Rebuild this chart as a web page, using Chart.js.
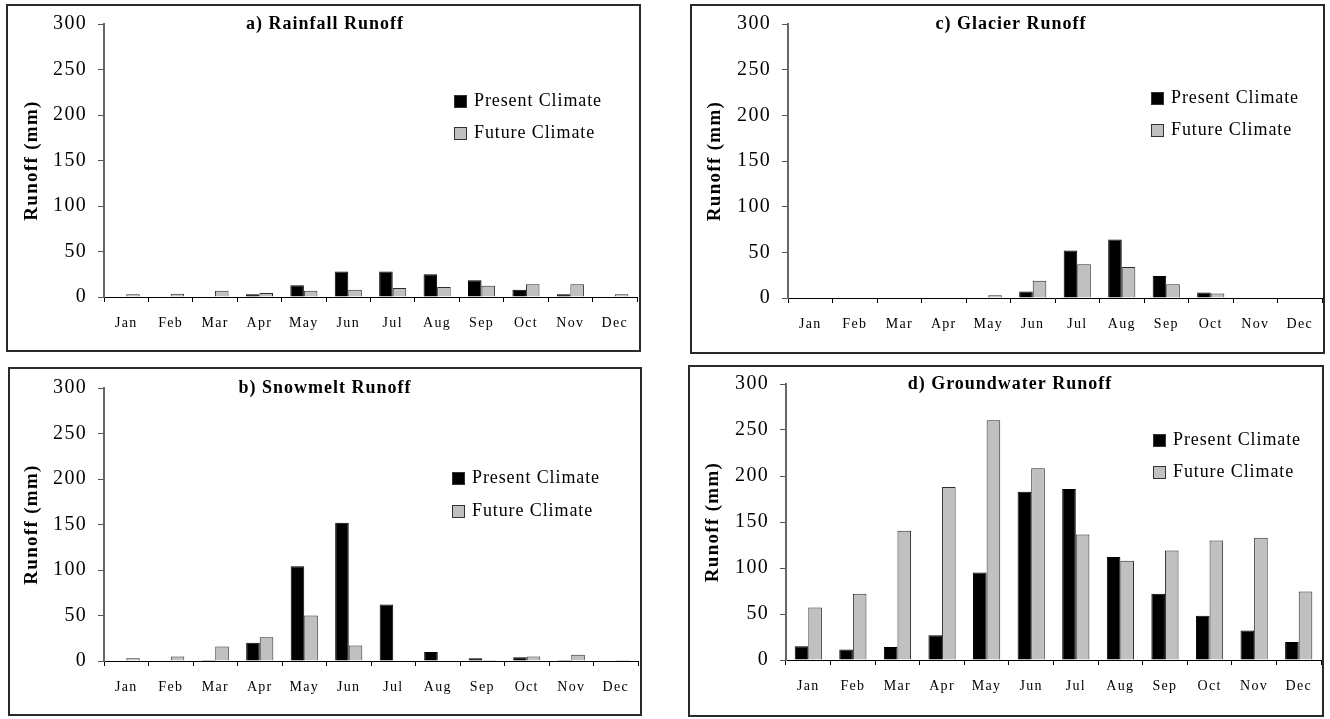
<!DOCTYPE html>
<html>
<head>
<meta charset="utf-8">
<title>Runoff: present vs future climate</title>
<script src="https://cdn.jsdelivr.net/npm/chart.js@4.4.1/dist/chart.umd.min.js"></script>
<style>
  body { margin: 0; background: #fff; }
  .panel { position: absolute; border: 2px solid #2a2a2a; box-sizing: border-box; background: #fff; }
  .panel canvas { display: block; }
</style>
</head>
<body>
<div class="panel" id="rainfall"><canvas></canvas></div>
<div class="panel" id="snowmelt"><canvas></canvas></div>
<div class="panel" id="glacier"><canvas></canvas></div>
<div class="panel" id="groundwater"><canvas></canvas></div>
<script>
const months = ['Jan', 'Feb', 'Mar', 'Apr', 'May', 'Jun', 'Jul', 'Aug', 'Sep', 'Oct', 'Nov', 'Dec']
const seriesNames = ['Present Climate', 'Future Climate']
const yMax = 300
const yStep = 50

// runoff in mm
const rainfallPresent = [0, 0, 0, 3, 13, 28, 28, 25, 18.5, 8, 3, 0]
const rainfallFuture = [3, 3.5, 7, 4.5, 7, 8, 10, 11, 12.5, 14, 14, 3]

const snowmeltPresent = [0, 0, 1, 20, 104, 152, 62, 10, 3, 4, 1, 0]
const snowmeltFuture = [3, 5, 16, 26, 50, 17, 0, 0, 1, 5, 7, 1]

const glacierPresent = [0, 0, 0, 0, 0, 7, 52, 64, 24, 6, 0, 0]
const glacierFuture = [0, 0, 0, 0, 3, 19, 37, 34, 15, 5, 0, 0]

const groundwaterPresent = [15, 11.5, 14, 27, 95, 183, 186, 112, 72, 48, 32, 19.5]
const groundwaterFuture = [57, 72, 140.5, 188, 260.5, 208.5, 136.5, 108, 119, 130, 133, 74.5]

const FONT = '"Liberation Serif", "Times New Roman", serif'

// page layout of each panel (box = border, area = plot area)
const panels = [
  { id: 'rainfall', title: 'a) Rainfall Runoff', present: rainfallPresent, future: rainfallFuture,
    box: [6, 4, 641, 352], area: [104, 24, 637, 297], titlePos: [325, 24], legendX: 454, legendY: [101, 133], yTitleX: 32 },
  { id: 'snowmelt', title: 'b) Snowmelt Runoff', present: snowmeltPresent, future: snowmeltFuture,
    box: [8, 367, 642, 716], area: [104, 388, 638, 661], titlePos: [325, 388], legendX: 452, legendY: [478, 511], yTitleX: 32 },
  { id: 'glacier', title: 'c) Glacier Runoff', present: glacierPresent, future: glacierFuture,
    box: [690, 4, 1325, 354], area: [788, 24, 1322, 298], titlePos: [1011, 24], legendX: 1151, legendY: [98, 130], yTitleX: 715 },
  { id: 'groundwater', title: 'd) Groundwater Runoff', present: groundwaterPresent, future: groundwaterFuture,
    box: [688, 365, 1324, 717], area: [786, 384, 1321, 660], titlePos: [1010, 384], legendX: 1153, legendY: [440, 472], yTitleX: 713 },
]

// title + legend inside the plot area, drawn on the canvas
const panelText = {
  id: 'panelText',
  beforeDraw(chart) {
    chart.ctx.letterSpacing = '1.3px'
  },
  afterDraw(chart, args, opts) {
    const ctx = chart.ctx
    ctx.save()
    ctx.letterSpacing = '1px'
    ctx.fillStyle = '#000'
    ctx.font = 'bold 18px ' + FONT
    ctx.textAlign = 'center'
    ctx.textBaseline = 'middle'
    ctx.fillText(opts.title, opts.titleX, opts.titleY)

    ctx.letterSpacing = '0.9px'
    ctx.font = '18px ' + FONT
    ctx.textAlign = 'left'
    chart.data.datasets.forEach((ds, i) => {
      const y = opts.legendY[i]
      ctx.fillStyle = ds.backgroundColor
      ctx.fillRect(opts.legendX, y - 6, 13, 13)
      ctx.strokeStyle = '#333'
      ctx.lineWidth = 1
      ctx.strokeRect(opts.legendX + 0.5, y - 5.5, 12, 12)
      ctx.fillStyle = '#000'
      ctx.fillText(ds.label, opts.legendX + 20, y)
    })
    ctx.restore()
    ctx.letterSpacing = '0px'
  },
}

const makeChart = (p) => {
  const [bl, bt, br, bb] = p.box
  const [al, at, ar, ab] = p.area
  const el = document.getElementById(p.id)
  el.style.left = bl + 'px'
  el.style.top = bt + 'px'
  el.style.width = br - bl + 'px'
  el.style.height = bb - bt + 'px'

  const canvas = el.querySelector('canvas')
  const ox = bl + 2
  const oy = bt + 2
  const cw = br - bl - 4
  const ch = bb - bt - 4
  canvas.width = cw
  canvas.height = ch

  const yWidth = al - ox
  const xHeight = oy + ch - ab

  new Chart(canvas, {
    type: 'bar',
    data: {
      labels: months,
      datasets: [
        { label: seriesNames[0], data: p.present, backgroundColor: '#000', borderColor: '#000', borderWidth: 1,
          categoryPercentage: 0.61, barPercentage: 1 },
        { label: seriesNames[1], data: p.future, backgroundColor: '#c0c0c0', borderColor: '#2b2b2b', borderWidth: 1,
          categoryPercentage: 0.61, barPercentage: 1 },
      ],
    },
    options: {
      responsive: false,
      animation: false,
      devicePixelRatio: 1,
      layout: { padding: { top: at - oy, right: ox + cw - ar, left: 0, bottom: 0 } },
      plugins: {
        legend: { display: false },
        tooltip: { enabled: false },
        panelText: {
          title: p.title,
          titleX: p.titlePos[0] - ox,
          titleY: p.titlePos[1] - oy,
          legendX: p.legendX - ox,
          legendY: p.legendY.map((v) => v - oy),
        },
      },
      scales: {
        x: {
          grid: { offset: true, drawOnChartArea: false, tickLength: 5, color: '#000' },
          border: { color: '#000', width: 1 },
          ticks: { font: { family: FONT, size: 14 }, color: '#000', padding: 13, autoSkip: false, maxRotation: 0 },
          afterFit: (s) => {
            s.height = xHeight
            s.paddingLeft = s.paddingRight = 0
          },
        },
        y: {
          min: 0,
          max: yMax,
          grid: { drawOnChartArea: false, tickLength: 6, color: '#555' },
          border: { color: '#666', width: 2 },
          ticks: { stepSize: yStep, font: { family: FONT, size: 20 }, color: '#000', padding: 11 },
          title: {
            display: true,
            text: 'Runoff (mm)',
            color: '#000',
            font: { family: FONT, size: 19, weight: 'bold' },
            padding: { top: p.yTitleX - ox - 11.4, bottom: 0 },
          },
          afterFit: (s) => {
            s.width = yWidth
            s.paddingTop = s.paddingBottom = 0
          },
        },
      },
    },
    plugins: [panelText],
  })
}

panels.forEach(makeChart)
</script>
</body>
</html>
